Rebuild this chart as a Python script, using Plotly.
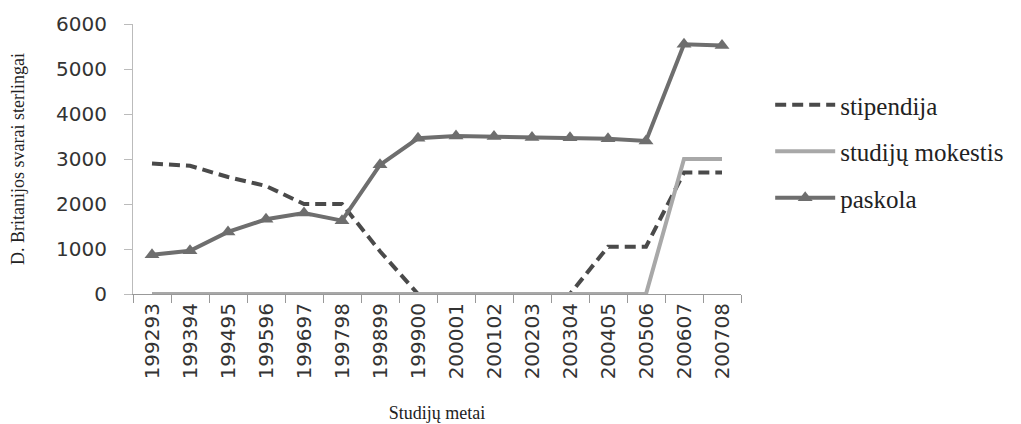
import plotly.graph_objects as go

metai = ["199293", "199394", "199495", "199596", "199697", "199798", "199899", "199900",
         "200001", "200102", "200203", "200304", "200405", "200506", "200607", "200708"]
stipendija = [2900, 2850, 2600, 2400, 2000, 2000, 950, 0, 0, 0, 0, 0, 1050, 1050, 2700, 2700]
mokestis = [0, 0, 0, 0, 0, 0, 0, 0, 0, 0, 0, 0, 0, 0, 3000, 3000]
paskola = [870, 960, 1380, 1660, 1800, 1630, 2870, 3460, 3510, 3500, 3480, 3470, 3450, 3400, 5550, 5520]

fig = go.Figure()
fig.add_trace(go.Scatter(
    x=metai, y=stipendija, name="stipendija", mode="lines", legendgroup="a",
    line=dict(color="#4a4a4a", width=4, dash="11px,6px"), cliponaxis=False))
fig.add_trace(go.Scatter(
    x=metai, y=mokestis, name="studijų mokestis", mode="lines", legendgroup="b",
    line=dict(color="#a8a8a8", width=4), cliponaxis=False))
fig.add_trace(go.Scatter(
    x=metai, y=paskola, name="paskola", mode="lines+markers", legendgroup="c",
    line=dict(color="#6e6e6e", width=4),
    marker=dict(symbol="triangle-up", size=13, color="#6e6e6e"), cliponaxis=False))

# page body has an 8px default margin, so the figure is a bit smaller than the window
fig.update_layout(
    width=1013, height=416,
    margin=dict(l=125, r=278, t=16, b=130),
    paper_bgcolor="white", plot_bgcolor="white",
    showlegend=True,
    legend=dict(x=1.048, y=0.785, xanchor="left", yanchor="top",
                font=dict(family="Liberation Serif", size=25, color="#222"),
                tracegroupgap=11, itemwidth=60),
    font=dict(family="DejaVu Sans", color="#333"),
)
fig.update_xaxes(
    type="category", range=[-0.5, 15.5], automargin=False,
    showline=True, linecolor="#999", linewidth=1,
    ticks="outside", tickson="boundaries", ticklen=8, tickcolor="#999",
    tickangle=-90, tickfont=dict(family="DejaVu Sans", size=20, color="#333"),
    showgrid=False, zeroline=False,
    title=dict(text="Studijų metai", font=dict(family="Liberation Serif", size=18, color="#222"),
               standoff=28),
)
fig.update_yaxes(
    range=[0, 6000], dtick=1000, automargin=False,
    showline=True, linecolor="#bbb", linewidth=1,
    ticks="outside", ticklen=8, tickcolor="#bbb", ticklabelstandoff=13,
    tickfont=dict(family="DejaVu Sans", size=20, color="#333"),
    showgrid=False, zeroline=False,
    title=dict(text="D. Britanijos svarai sterlingai",
               font=dict(family="Liberation Serif", size=18, color="#222"), standoff=26),
)

fig.write_html("out.html")
